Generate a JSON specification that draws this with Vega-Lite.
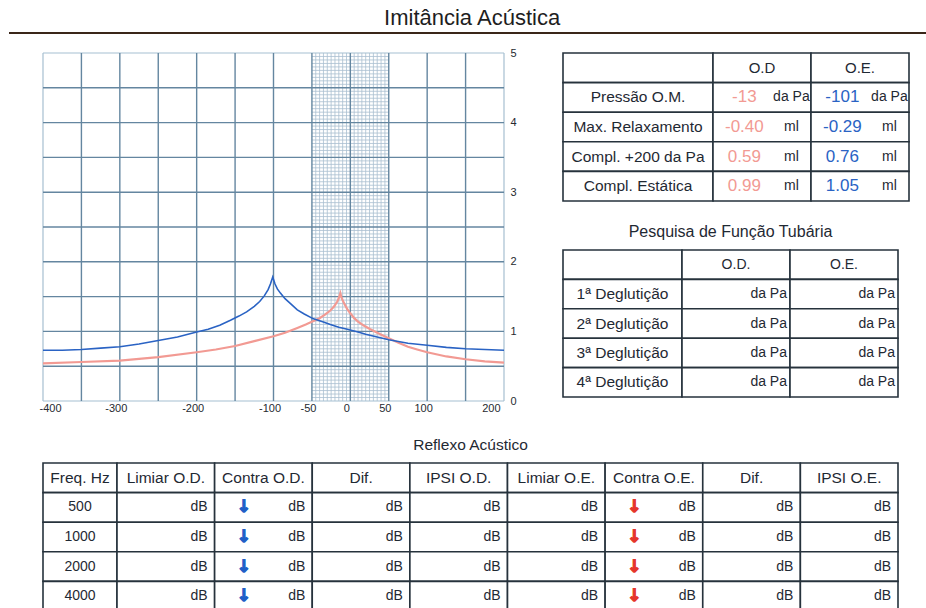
{
"$schema": "https://vega.github.io/schema/vega-lite/v6.json",
"padding": {"left": 8, "top": 0, "right": 0, "bottom": 0},
"background": "#ffffff",
"config": {"view": {"stroke": null}, "font": "Liberation Sans"},
"bounds": "flush",
"spacing": 20,
"vconcat": [
 {
  "width": 883, "height": 33,
  "data": {"values": [{"t": "Imitância Acústica", "a": 0, "b": 1, "m": 0.505, "y": 0, "ty": 0.45}]},
  "layer": [
   {"mark": {"type": "rule", "color": "#3a2619", "strokeWidth": 2},
    "encoding": {
     "x": {"field": "a", "type": "quantitative", "scale": {"domain": [0, 1], "range": [-34, 883]}, "axis": null},
     "x2": {"field": "b"},
     "y": {"field": "y", "type": "quantitative", "scale": {"domain": [0, 1]}, "axis": null}
    }},
   {"mark": {"type": "text", "fontSize": 22, "color": "#1e1e1e"},
    "encoding": {
     "text": {"field": "t"},
     "x": {"field": "m", "type": "quantitative", "axis": null},
     "y": {"field": "ty", "type": "quantitative", "axis": null}
    }}
  ]
 },
 {
  "bounds": "flush", "spacing": 410,
  "vconcat": [
   {
    "bounds": "flush", "spacing": 59,
    "hconcat": [
     {
      "width": 461, "height": 348,
      "layer": [
       {"data": {"values": [{"v":-45},{"v":-40},{"v":-35},{"v":-30},{"v":-25},{"v":-20},{"v":-15},{"v":-10},{"v":-5},{"v":5},{"v":10},{"v":15},{"v":20},{"v":25},{"v":30},{"v":35},{"v":40},{"v":45}]},
        "mark": {"type": "rule", "color": "#a9bfd0", "strokeWidth": 0.8},
        "encoding": {"x": {"field": "v", "type": "quantitative", "title": null, "scale": {"domain": [-400, 200], "nice": false, "zero": false},
          "axis": {"values": [-400,-300,-200,-100,-50,0,50,100,200], "labelExpr": "'' + datum.value", "domain": false, "ticks": false, "tickSize": 0, "grid": false, "labelFontSize": 11, "labelColor": "#262a30", "labelPadding": 1, "labelOffset": -4, "labelFlush": true, "labelOverlap": false, "title": null}}}},
       {"data": {"values": [{"v":0.05},{"v":0.1},{"v":0.15},{"v":0.2},{"v":0.25},{"v":0.3},{"v":0.35},{"v":0.4},{"v":0.45},{"v":0.55},{"v":0.6},{"v":0.65},{"v":0.7},{"v":0.75},{"v":0.8},{"v":0.85},{"v":0.9},{"v":0.95},{"v":1.05},{"v":1.1},{"v":1.15},{"v":1.2},{"v":1.25},{"v":1.3},{"v":1.35},{"v":1.4},{"v":1.45},{"v":1.55},{"v":1.6},{"v":1.65},{"v":1.7},{"v":1.75},{"v":1.8},{"v":1.85},{"v":1.9},{"v":1.95},{"v":2.05},{"v":2.1},{"v":2.15},{"v":2.2},{"v":2.25},{"v":2.3},{"v":2.35},{"v":2.4},{"v":2.45},{"v":2.55},{"v":2.6},{"v":2.65},{"v":2.7},{"v":2.75},{"v":2.8},{"v":2.85},{"v":2.9},{"v":2.95},{"v":3.05},{"v":3.1},{"v":3.15},{"v":3.2},{"v":3.25},{"v":3.3},{"v":3.35},{"v":3.4},{"v":3.45},{"v":3.55},{"v":3.6},{"v":3.65},{"v":3.7},{"v":3.75},{"v":3.8},{"v":3.85},{"v":3.9},{"v":3.95},{"v":4.05},{"v":4.1},{"v":4.15},{"v":4.2},{"v":4.25},{"v":4.3},{"v":4.35},{"v":4.4},{"v":4.45},{"v":4.55},{"v":4.6},{"v":4.65},{"v":4.7},{"v":4.75},{"v":4.8},{"v":4.85},{"v":4.9},{"v":4.95}]},
        "mark": {"type": "rule", "color": "#a9bfd0", "strokeWidth": 0.8},
        "encoding": {
         "y": {"field": "v", "type": "quantitative", "title": null, "scale": {"domain": [0, 5], "nice": false},
          "axis": {"orient": "right", "values": [0,1,2,3,4,5], "domain": false, "ticks": false, "tickSize": 0, "grid": false, "labelFontSize": 11, "labelColor": "#262a30", "labelPadding": 6, "labelOverlap": false, "title": null}},
         "x": {"datum": -50, "type": "quantitative", "title": null,
          "axis": {"values": [-400,-300,-200,-100,-50,0,50,100,200], "labelExpr": "'' + datum.value", "domain": false, "ticks": false, "tickSize": 0, "grid": false, "labelFontSize": 11, "labelColor": "#262a30", "labelPadding": 1, "labelOffset": -4, "labelFlush": true, "labelOverlap": false, "title": null}},
         "x2": {"datum": 50}
        }},
       {"data": {"values": [{"v": -400}, {"v": 200}]},
        "mark": {"type": "rule", "color": "#a6bfd1", "strokeWidth": 1.2},
        "encoding": {"x": {"field": "v", "type": "quantitative", "title": null,
          "axis": {"values": [-400,-300,-200,-100,-50,0,50,100,200], "labelExpr": "'' + datum.value", "domain": false, "ticks": false, "tickSize": 0, "grid": false, "labelFontSize": 11, "labelColor": "#262a30", "labelPadding": 1, "labelOffset": -4, "labelFlush": true, "labelOverlap": false, "title": null}}}},
       {"data": {"values": [{"v": 0}, {"v": 5}]},
        "mark": {"type": "rule", "color": "#a6bfd1", "strokeWidth": 1.2},
        "encoding": {"y": {"field": "v", "type": "quantitative", "title": null,
          "axis": {"orient": "right", "values": [0,1,2,3,4,5], "domain": false, "ticks": false, "tickSize": 0, "grid": false, "labelFontSize": 11, "labelColor": "#262a30", "labelPadding": 6, "labelOverlap": false, "title": null}}}},
       {"data": {"values": [{"v":-350},{"v":-300},{"v":-250},{"v":-200},{"v":-150},{"v":-100},{"v":-50},{"v":0},{"v":50},{"v":100},{"v":150}]},
        "mark": {"type": "rule", "color": "#6486a0", "strokeWidth": 1.4},
        "encoding": {"x": {"field": "v", "type": "quantitative", "title": null,
          "axis": {"values": [-400,-300,-200,-100,-50,0,50,100,200], "labelExpr": "'' + datum.value", "domain": false, "ticks": false, "tickSize": 0, "grid": false, "labelFontSize": 11, "labelColor": "#262a30", "labelPadding": 1, "labelOffset": -4, "labelFlush": true, "labelOverlap": false, "title": null}}}},
       {"data": {"values": [{"v":0.5},{"v":1},{"v":1.5},{"v":2},{"v":2.5},{"v":3},{"v":3.5},{"v":4},{"v":4.5}]},
        "mark": {"type": "rule", "color": "#6486a0", "strokeWidth": 1.4},
        "encoding": {"y": {"field": "v", "type": "quantitative", "title": null,
          "axis": {"orient": "right", "values": [0,1,2,3,4,5], "domain": false, "ticks": false, "tickSize": 0, "grid": false, "labelFontSize": 11, "labelColor": "#262a30", "labelPadding": 6, "labelOverlap": false, "title": null}}}},
       {"data": {"values": [
         {"ear": "O.D.", "p": -400, "c": 0.54},
         {"ear": "O.D.", "p": -350, "c": 0.56},
         {"ear": "O.D.", "p": -300, "c": 0.58},
         {"ear": "O.D.", "p": -250, "c": 0.63},
         {"ear": "O.D.", "p": -200, "c": 0.70},
         {"ear": "O.D.", "p": -175, "c": 0.74},
         {"ear": "O.D.", "p": -150, "c": 0.79},
         {"ear": "O.D.", "p": -125, "c": 0.86},
         {"ear": "O.D.", "p": -100, "c": 0.93},
         {"ear": "O.D.", "p": -85, "c": 0.98},
         {"ear": "O.D.", "p": -69, "c": 1.05},
         {"ear": "O.D.", "p": -58, "c": 1.10},
         {"ear": "O.D.", "p": -48, "c": 1.15},
         {"ear": "O.D.", "p": -40, "c": 1.19},
         {"ear": "O.D.", "p": -33, "c": 1.24},
         {"ear": "O.D.", "p": -26, "c": 1.30},
         {"ear": "O.D.", "p": -21, "c": 1.36},
         {"ear": "O.D.", "p": -17, "c": 1.43},
         {"ear": "O.D.", "p": -15, "c": 1.48},
         {"ear": "O.D.", "p": -13, "c": 1.55},
         {"ear": "O.D.", "p": -11, "c": 1.47},
         {"ear": "O.D.", "p": -8, "c": 1.40},
         {"ear": "O.D.", "p": -4, "c": 1.32},
         {"ear": "O.D.", "p": 0, "c": 1.26},
         {"ear": "O.D.", "p": 5, "c": 1.19},
         {"ear": "O.D.", "p": 10, "c": 1.14},
         {"ear": "O.D.", "p": 18, "c": 1.08},
         {"ear": "O.D.", "p": 26, "c": 1.03},
         {"ear": "O.D.", "p": 39, "c": 0.96},
         {"ear": "O.D.", "p": 50, "c": 0.90},
         {"ear": "O.D.", "p": 62, "c": 0.84},
         {"ear": "O.D.", "p": 75, "c": 0.78},
         {"ear": "O.D.", "p": 87, "c": 0.74},
         {"ear": "O.D.", "p": 100, "c": 0.70},
         {"ear": "O.D.", "p": 125, "c": 0.64},
         {"ear": "O.D.", "p": 150, "c": 0.60},
         {"ear": "O.D.", "p": 175, "c": 0.57},
         {"ear": "O.D.", "p": 200, "c": 0.55},
         {"ear": "O.E.", "p": -400, "c": 0.73},
         {"ear": "O.E.", "p": -375, "c": 0.73},
         {"ear": "O.E.", "p": -350, "c": 0.74},
         {"ear": "O.E.", "p": -325, "c": 0.76},
         {"ear": "O.E.", "p": -300, "c": 0.78},
         {"ear": "O.E.", "p": -275, "c": 0.82},
         {"ear": "O.E.", "p": -250, "c": 0.87},
         {"ear": "O.E.", "p": -225, "c": 0.92},
         {"ear": "O.E.", "p": -200, "c": 0.99},
         {"ear": "O.E.", "p": -185, "c": 1.03},
         {"ear": "O.E.", "p": -170, "c": 1.09},
         {"ear": "O.E.", "p": -156, "c": 1.16},
         {"ear": "O.E.", "p": -145, "c": 1.22},
         {"ear": "O.E.", "p": -135, "c": 1.28},
         {"ear": "O.E.", "p": -125, "c": 1.36},
         {"ear": "O.E.", "p": -118, "c": 1.43},
         {"ear": "O.E.", "p": -112, "c": 1.51},
         {"ear": "O.E.", "p": -107, "c": 1.60},
         {"ear": "O.E.", "p": -104, "c": 1.68},
         {"ear": "O.E.", "p": -101, "c": 1.78},
         {"ear": "O.E.", "p": -98, "c": 1.68},
         {"ear": "O.E.", "p": -95, "c": 1.61},
         {"ear": "O.E.", "p": -91, "c": 1.55},
         {"ear": "O.E.", "p": -85, "c": 1.47},
         {"ear": "O.E.", "p": -80, "c": 1.42},
         {"ear": "O.E.", "p": -75, "c": 1.37},
         {"ear": "O.E.", "p": -69, "c": 1.31},
         {"ear": "O.E.", "p": -60, "c": 1.25},
         {"ear": "O.E.", "p": -48, "c": 1.18},
         {"ear": "O.E.", "p": -36, "c": 1.14},
         {"ear": "O.E.", "p": -26, "c": 1.10},
         {"ear": "O.E.", "p": -15, "c": 1.06},
         {"ear": "O.E.", "p": -4, "c": 1.03},
         {"ear": "O.E.", "p": 10, "c": 0.99},
         {"ear": "O.E.", "p": 20, "c": 0.96},
         {"ear": "O.E.", "p": 39, "c": 0.91},
         {"ear": "O.E.", "p": 50, "c": 0.88},
         {"ear": "O.E.", "p": 75, "c": 0.83},
         {"ear": "O.E.", "p": 100, "c": 0.80},
         {"ear": "O.E.", "p": 125, "c": 0.77},
         {"ear": "O.E.", "p": 150, "c": 0.75},
         {"ear": "O.E.", "p": 175, "c": 0.74},
         {"ear": "O.E.", "p": 200, "c": 0.73}
        ]},
        "mark": {"type": "line", "interpolate": "linear"},
        "encoding": {
         "x": {"field": "p", "type": "quantitative", "title": null, "axis": {"values": [-400,-300,-200,-100,-50,0,50,100,200], "labelExpr": "'' + datum.value", "domain": false, "ticks": false, "tickSize": 0, "grid": false, "labelFontSize": 11, "labelColor": "#262a30", "labelPadding": 1, "labelOffset": -4, "labelFlush": true, "labelOverlap": false, "title": null}},
         "y": {"field": "c", "type": "quantitative", "title": null, "axis": {"orient": "right", "values": [0,1,2,3,4,5], "domain": false, "ticks": false, "tickSize": 0, "grid": false, "labelFontSize": 11, "labelColor": "#262a30", "labelPadding": 6, "labelOverlap": false, "title": null}},
         "color": {"field": "ear", "type": "nominal", "scale": {"domain": ["O.D.", "O.E."], "range": ["#f29a93", "#2a63c4"]}, "legend": null},
         "strokeWidth": {"field": "ear", "type": "nominal", "scale": {"domain": ["O.D.", "O.E."], "range": [2.2, 1.6]}, "legend": null}
        }}
      ]
     },
     {
      "bounds": "flush", "spacing": 197,
      "vconcat": [
       {
        "bounds": "flush", "spacing": 0,
        "hconcat": [
         {
          "width": 150, "height": 148,
          "data": {"values": [{"r": 0, "t": ""}, {"r": 1, "t": "Pressão O.M."}, {"r": 2, "t": "Max. Relaxamento"}, {"r": 3, "t": "Compl. +200 da Pa"}, {"r": 4, "t": "Compl. Estática"}]},
          "encoding": {"y": {"field": "r", "type": "ordinal", "scale": {"domain": [0, 1, 2, 3, 4], "paddingInner": 0, "paddingOuter": 0}, "axis": null}},
          "layer": [
           {"mark": {"type": "rect", "fill": "#ffffff", "stroke": "#26323c", "strokeWidth": 1.6}},
           {"mark": {"type": "text", "fontSize": 15.5, "color": "#1f2933"}, "encoding": {"text": {"field": "t"}}}
          ]
         },
         {
          "width": 196, "height": 148,
          "data": {"values": [
           {"c": "O.D", "r": 0, "h": "O.D"}, {"c": "O.E.", "r": 0, "h": "O.E."},
           {"c": "O.D", "r": 1, "v": "-13", "u": "da Pa"}, {"c": "O.E.", "r": 1, "v": "-101", "u": "da Pa"},
           {"c": "O.D", "r": 2, "v": "-0.40", "u": "ml"}, {"c": "O.E.", "r": 2, "v": "-0.29", "u": "ml"},
           {"c": "O.D", "r": 3, "v": "0.59", "u": "ml"}, {"c": "O.E.", "r": 3, "v": "0.76", "u": "ml"},
           {"c": "O.D", "r": 4, "v": "0.99", "u": "ml"}, {"c": "O.E.", "r": 4, "v": "1.05", "u": "ml"}
          ]},
          "encoding": {
           "x": {"field": "c", "type": "nominal", "sort": null, "scale": {"domain": ["O.D", "O.E."], "paddingInner": 0, "paddingOuter": 0}, "axis": null},
           "y": {"field": "r", "type": "ordinal", "scale": {"domain": [0, 1, 2, 3, 4], "paddingInner": 0, "paddingOuter": 0}, "axis": null}
          },
          "layer": [
           {"mark": {"type": "rect", "fill": "#ffffff", "stroke": "#26323c", "strokeWidth": 1.6}},
           {"transform": [{"filter": "isValid(datum.h)"}],
            "mark": {"type": "text", "fontSize": 15, "color": "#1f2933"}, "encoding": {"text": {"field": "h"}}},
           {"transform": [{"filter": "isValid(datum.v)"}],
            "mark": {"type": "text", "fontSize": 17},
            "encoding": {
             "x": {"field": "c", "type": "nominal", "sort": null, "bandPosition": 0.32, "axis": null},
             "text": {"field": "v"},
             "color": {"field": "c", "type": "nominal", "scale": {"domain": ["O.D", "O.E."], "range": ["#f07a70", "#1f62c7"]}, "legend": null}
            }},
           {"transform": [{"filter": "isValid(datum.u)"}],
            "mark": {"type": "text", "fontSize": 14, "color": "#1f2933"},
            "encoding": {
             "x": {"field": "c", "type": "nominal", "sort": null, "bandPosition": 0.8, "axis": null},
             "text": {"field": "u"}
            }}
          ]
         }
        ]
       },
       {
        "bounds": "flush", "spacing": 0,
        "hconcat": [
         {
          "width": 119, "height": 147,
          "data": {"values": [{"r": 0, "t": ""}, {"r": 1, "t": "1ª Deglutição"}, {"r": 2, "t": "2ª Deglutição"}, {"r": 3, "t": "3ª Deglutição"}, {"r": 4, "t": "4ª Deglutição"}]},
          "encoding": {"y": {"field": "r", "type": "ordinal", "scale": {"domain": [0, 1, 2, 3, 4], "paddingInner": 0, "paddingOuter": 0}, "axis": null}},
          "layer": [
           {"mark": {"type": "rect", "fill": "#ffffff", "stroke": "#26323c", "strokeWidth": 1.6}},
           {"mark": {"type": "text", "fontSize": 15.5, "color": "#1f2933"}, "encoding": {"text": {"field": "t"}}}
          ]
         },
         {
          "width": 216, "height": 147,
          "title": {"text": "Pesquisa de Função Tubária", "anchor": "middle", "frame": "group", "dx": -59.5, "fontSize": 16, "fontWeight": "normal", "color": "#1f2933", "offset": -6.5, "baseline": "bottom"},
          "data": {"values": [
           {"c": "O.D.", "r": 0, "h": "O.D."}, {"c": "O.E.", "r": 0, "h": "O.E."},
           {"c": "O.D.", "r": 1, "u": "da Pa"}, {"c": "O.E.", "r": 1, "u": "da Pa"},
           {"c": "O.D.", "r": 2, "u": "da Pa"}, {"c": "O.E.", "r": 2, "u": "da Pa"},
           {"c": "O.D.", "r": 3, "u": "da Pa"}, {"c": "O.E.", "r": 3, "u": "da Pa"},
           {"c": "O.D.", "r": 4, "u": "da Pa"}, {"c": "O.E.", "r": 4, "u": "da Pa"}
          ]},
          "encoding": {
           "x": {"field": "c", "type": "nominal", "sort": null, "scale": {"domain": ["O.D.", "O.E."], "paddingInner": 0, "paddingOuter": 0}, "axis": null},
           "y": {"field": "r", "type": "ordinal", "scale": {"domain": [0, 1, 2, 3, 4], "paddingInner": 0, "paddingOuter": 0}, "axis": null}
          },
          "layer": [
           {"mark": {"type": "rect", "fill": "#ffffff", "stroke": "#26323c", "strokeWidth": 1.6}},
           {"transform": [{"filter": "isValid(datum.h)"}],
            "mark": {"type": "text", "fontSize": 14, "color": "#1f2933"}, "encoding": {"text": {"field": "h"}}},
           {"transform": [{"filter": "isValid(datum.u)"}],
            "mark": {"type": "text", "fontSize": 14, "color": "#1f2933", "align": "right", "dx": -3},
            "encoding": {
             "x": {"field": "c", "type": "nominal", "sort": null, "bandPosition": 1, "axis": null},
             "text": {"field": "u"}
            }}
          ]
         }
        ]
       }
      ]
     }
    ]
   },
   {
    "bounds": "flush", "spacing": 0,
    "hconcat": [
     {
      "width": 74, "height": 148,
      "data": {"values": [{"r": 0, "h": "Freq. Hz"}, {"r": 1, "f": "500"}, {"r": 2, "f": "1000"}, {"r": 3, "f": "2000"}, {"r": 4, "f": "4000"}]},
      "encoding": {"y": {"field": "r", "type": "ordinal", "scale": {"domain": [0, 1, 2, 3, 4], "paddingInner": 0, "paddingOuter": 0}, "axis": null}},
      "layer": [
       {"mark": {"type": "rect", "fill": "#ffffff", "stroke": "#26323c", "strokeWidth": 1.6}},
       {"transform": [{"filter": "isValid(datum.h)"}],
        "mark": {"type": "text", "fontSize": 15.5, "color": "#1f2933"}, "encoding": {"text": {"field": "h"}}},
       {"transform": [{"filter": "isValid(datum.f)"}],
        "mark": {"type": "text", "fontSize": 14, "color": "#1f2933"}, "encoding": {"text": {"field": "f"}}}
      ]
     },
     {
      "width": 781, "height": 148,
      "title": {"text": "Reflexo Acústico", "anchor": "middle", "frame": "group", "dx": -37, "fontSize": 15.5, "fontWeight": "normal", "color": "#1f2933", "offset": -6, "baseline": "bottom"},
      "data": {"values": [
       {"c": "c1", "r": 0, "h": "Limiar O.D."}, {"c": "c2", "r": 0, "h": "Contra O.D."}, {"c": "c3", "r": 0, "h": "Dif."}, {"c": "c4", "r": 0, "h": "IPSI O.D."},
       {"c": "c5", "r": 0, "h": "Limiar O.E."}, {"c": "c6", "r": 0, "h": "Contra O.E."}, {"c": "c7", "r": 0, "h": "Dif."}, {"c": "c8", "r": 0, "h": "IPSI O.E."},
       {"c": "c1", "r": 1, "u": "dB"}, {"c": "c2", "r": 1, "u": "dB", "a": "↓", "s": "OD"}, {"c": "c3", "r": 1, "u": "dB"}, {"c": "c4", "r": 1, "u": "dB"},
       {"c": "c5", "r": 1, "u": "dB"}, {"c": "c6", "r": 1, "u": "dB", "a": "↓", "s": "OE"}, {"c": "c7", "r": 1, "u": "dB"}, {"c": "c8", "r": 1, "u": "dB"},
       {"c": "c1", "r": 2, "u": "dB"}, {"c": "c2", "r": 2, "u": "dB", "a": "↓", "s": "OD"}, {"c": "c3", "r": 2, "u": "dB"}, {"c": "c4", "r": 2, "u": "dB"},
       {"c": "c5", "r": 2, "u": "dB"}, {"c": "c6", "r": 2, "u": "dB", "a": "↓", "s": "OE"}, {"c": "c7", "r": 2, "u": "dB"}, {"c": "c8", "r": 2, "u": "dB"},
       {"c": "c1", "r": 3, "u": "dB"}, {"c": "c2", "r": 3, "u": "dB", "a": "↓", "s": "OD"}, {"c": "c3", "r": 3, "u": "dB"}, {"c": "c4", "r": 3, "u": "dB"},
       {"c": "c5", "r": 3, "u": "dB"}, {"c": "c6", "r": 3, "u": "dB", "a": "↓", "s": "OE"}, {"c": "c7", "r": 3, "u": "dB"}, {"c": "c8", "r": 3, "u": "dB"},
       {"c": "c1", "r": 4, "u": "dB"}, {"c": "c2", "r": 4, "u": "dB", "a": "↓", "s": "OD"}, {"c": "c3", "r": 4, "u": "dB"}, {"c": "c4", "r": 4, "u": "dB"},
       {"c": "c5", "r": 4, "u": "dB"}, {"c": "c6", "r": 4, "u": "dB", "a": "↓", "s": "OE"}, {"c": "c7", "r": 4, "u": "dB"}, {"c": "c8", "r": 4, "u": "dB"}
      ]},
      "encoding": {
       "x": {"field": "c", "type": "nominal", "sort": null, "scale": {"domain": ["c1", "c2", "c3", "c4", "c5", "c6", "c7", "c8"], "paddingInner": 0, "paddingOuter": 0}, "axis": null},
       "y": {"field": "r", "type": "ordinal", "scale": {"domain": [0, 1, 2, 3, 4], "paddingInner": 0, "paddingOuter": 0}, "axis": null}
      },
      "layer": [
       {"mark": {"type": "rect", "fill": "#ffffff", "stroke": "#26323c", "strokeWidth": 1.6}},
       {"transform": [{"filter": "isValid(datum.h)"}],
        "mark": {"type": "text", "fontSize": 15.5, "color": "#1f2933"}, "encoding": {"text": {"field": "h"}}},
       {"transform": [{"filter": "isValid(datum.u)"}],
        "mark": {"type": "text", "fontSize": 14, "color": "#1f2933", "align": "right", "dx": -7},
        "encoding": {
         "x": {"field": "c", "type": "nominal", "sort": null, "bandPosition": 1, "axis": null},
         "text": {"field": "u"}
        }},
       {"transform": [{"filter": "isValid(datum.a)"}],
        "mark": {"type": "text", "fontSize": 17, "fontWeight": "bold", "font": "DejaVu Sans", "strokeWidth": 1.3},
        "encoding": {
         "x": {"field": "c", "type": "nominal", "sort": null, "bandPosition": 0.3, "axis": null},
         "text": {"field": "a"},
         "fill": {"field": "s", "type": "nominal", "scale": {"domain": ["OD", "OE"], "range": ["#1f5fc7", "#e5352b"]}, "legend": null},
         "stroke": {"field": "s", "type": "nominal", "scale": {"domain": ["OD", "OE"], "range": ["#1f5fc7", "#e5352b"]}, "legend": null}
        }}
      ]
     }
    ]
   }
  ]
 }
]
}
